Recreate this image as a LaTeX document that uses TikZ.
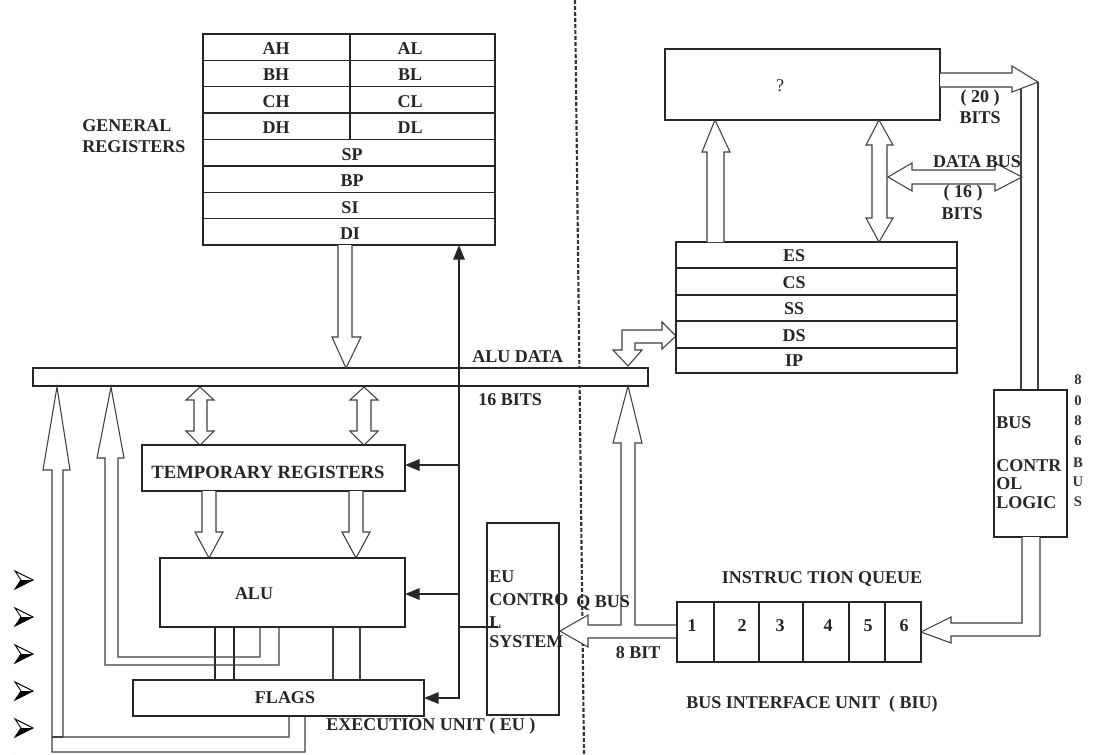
\documentclass[tikz,border=0pt]{standalone}
\usepackage{fontspec}
\setmainfont{Liberation Serif}
\usetikzlibrary{arrows.meta}
\begin{document}
\begin{tikzpicture}[x=0.75pt,y=-0.75pt,
  ln/.style={draw=black!85, line width=1pt},
  hol/.style={draw=black!75, line width=0.8pt, fill=white, line join=miter},
  chan/.style={draw=black!75, line width=0.8pt},
  blk/.style={draw=black!85, line width=1.7pt},
  tip/.style={-{Triangle[length=11pt,width=8.5pt]}},
  t/.style={font=\fontsize{13.5}{15}\selectfont\bfseries, inner sep=0pt, text=black!85},
  tl/.style={t, anchor=west},
  dv/.style={draw=black!80, line width=1.6pt, dash pattern=on 3pt off 1.5pt}]
\clip (0,0) rectangle (1098,754);
\fill[white] (0,0) rectangle (1098,754);

% divider between EU and BIU
\draw[dv] (575,0) -- (584,754);

% ---------------- general registers
\draw[ln] (203,34) rectangle (495,245);
\foreach \y in {60.4,86.75,113.1,139.5,165.9,192.25,218.6} \draw[ln] (203,\y) -- (495,\y);
\draw[ln] (350,34) -- (350,139.5);
\node[t] (ah) at (276,49) {AH};  \node[t] (al) at (410,49) {AL};
\node[t] (bh) at (276,75) {BH};  \node[t] (bl) at (410,75) {BL};
\node[t] (ch) at (276,102) {CH}; \node[t] (cl) at (410,102) {CL};
\node[t] (dh) at (276,128) {DH}; \node[t] (dl) at (410,128) {DL};
\node[t] (sp) at (352,155) {SP};
\node[t] (bp) at (352,181) {BP};
\node[t] (si) at (350,208) {SI};
\node[t] (di) at (350,234) {DI};
\node[tl] (gen1) at (82,126) {GENERAL};
\node[tl] (gen2) at (82,147) {REGISTERS};

% ---------------- ALU data bus bar
\draw[ln, fill=white] (33,368) rectangle (648,386);
\node[tl] (aludata) at (472,357) {ALU DATA};
\node[tl] (bits16) at (478,400) {16 BITS};

% gen regs -> bus
\draw[hol] (338,245) -- (338,337) -- (332,337) -- (346,368) -- (361,337) -- (352,337) -- (352,245);

% bus <-> temporary registers
\draw[hol] (200,387) -- (214,400) -- (207,400) -- (207,431) -- (214,431) -- (200,445) -- (186,431) -- (194,431) -- (194,400) -- (186,400) -- cycle;
\draw[hol] (364,387) -- (378,400) -- (371,400) -- (371,431) -- (378,431) -- (364,445) -- (350,431) -- (357,431) -- (357,400) -- (350,400) -- cycle;

% temporary registers
\draw[ln] (142,445) rectangle (405,491);
\node[font=\fontsize{14}{15}\selectfont\bfseries, inner sep=0pt, text=black!85] (temp) at (268,472) {TEMPORARY REGISTERS};

% temp -> ALU
\draw[hol] (202,491) -- (202,532) -- (195,532) -- (209,558) -- (223,532) -- (216,532) -- (216,491);
\draw[hol] (349,491) -- (349,532) -- (342,532) -- (356,558) -- (370,532) -- (363,532) -- (363,491);

% ALU
\draw[ln] (160,558) rectangle (405,627);
\node[t] (alu) at (254,594) {ALU};

% FLAGS
\draw[ln] (133,680) rectangle (424,716);
\node[t] (flags) at (285,698) {FLAGS};

% ALU -> FLAGS lines
\draw[draw=black!85, line width=1.4pt] (215,627) -- (215,680) (234,627) -- (234,680);
\draw[chan] (333,627) -- (333,680) (360,627) -- (360,680);

% left channel arrows to the bus
\draw[hol, fill=none] (260,627) -- (260,657) -- (118,657) -- (118,458) -- (124,458) -- (111,387) -- (97,458) -- (105,458) -- (105,665) -- (279,665) -- (279,627);
\draw[hol, fill=none] (289,716) -- (289,737) -- (63,737) -- (63,470) -- (70,470) -- (57,387) -- (43,470) -- (52,470) -- (52,752) -- (305,752) -- (305,716);
\draw[chan] (52,737) -- (63,737);

\node[tl] (eu) at (326,726) {EXECUTION UNIT ( EU )};

% black control lines
\draw[blk, tip] (459,698) -- (459,245);
\draw[blk, tip] (459,465) -- (405,465);
\draw[blk, tip] (459,594) -- (405,594);
\draw[blk, tip] (459.8,698) -- (424,698);
\draw[draw=black!85, line width=1pt] (459,627) -- (498,627);

% EU control system
\draw[ln] (487,523) rectangle (559,715);
\node[tl] (euc1) at (489,577) {EU};
\node[tl] (euc2) at (489,600) {CONTRO};
\node[tl] (euc3) at (489,623) {L};
\node[tl] (euc4) at (489,642) {SYSTEM};

% Q bus arrow (from queue to EU control, branch up to ALU data bus)
\draw[hol] (677,625) -- (635,625) -- (635,443) -- (642,443) -- (628,386) -- (613,443) -- (621,443) -- (621,625) -- (588,625) -- (588,615) -- (560,631) -- (588,647) -- (588,638) -- (677,638);
\node[t] (qbus) at (603,603) {Q BUS};
\node[t] (bit8) at (638,653) {8 BIT};

% bus -> segment registers (DS)
\draw[hol] (628,366) -- (613,350) -- (622,350) -- (622,330) -- (662,330) -- (662,322) -- (676,336) -- (662,349) -- (662,343) -- (635,343) -- (635,350) -- (642,350) -- cycle;

% ---------------- segment registers
\draw[ln] (676,242) rectangle (957,373);
\foreach \y in {268,295,321,348} \draw[ln] (676,\y) -- (957,\y);
\node[t] (es) at (794,256) {ES};
\node[t] (cs) at (794,283) {CS};
\node[t] (ss) at (794,309) {SS};
\node[t] (ds) at (794,336) {DS};
\node[t] (ip) at (794,361) {IP};

% ? box
\draw[ln] (665,49) rectangle (940,120);
\node[font=\fontsize{13.5}{15}\selectfont, inner sep=0pt, text=black!85] (q) at (780,86) {?};

% ES -> ? box
\draw[hol] (707,242) -- (707,152) -- (702,152) -- (715,120) -- (730,152) -- (724,152) -- (724,242);
% ? box <-> ES (double)
\draw[hol] (879,120) -- (893,145) -- (887,145) -- (887,218) -- (893,218) -- (879,242) -- (866,218) -- (872,218) -- (872,145) -- (866,145) -- cycle;
% data bus (double, horizontal)
\draw[hol] (888,177) -- (912,163) -- (912,170) -- (995,170) -- (995,163) -- (1022,177) -- (995,191) -- (995,184) -- (912,184) -- (912,191) -- cycle;
\node[t] (databus) at (977,162) {DATA BUS};
\node[t] (b16a) at (963,193) {( 16 )};
\node[t] (b16b) at (962,214) {BITS};

% address bus (20 bits) to bus control logic
\draw[hol] (940,73) -- (1012,73) -- (1012,66) -- (1038,82) -- (1012,92) -- (1012,87) -- (940,87);
\draw[chan] (1038,82) -- (1038,390);
\draw[chan] (1021,89) -- (1021,390);
\node[t] (b20a) at (980,98) {( 20 )};
\node[t] (b20b) at (980,118) {BITS};

% bus control logic
\draw[ln] (994,390) rectangle (1067,537);
\node[tl] (bc1) at (996,423) {BUS};
\node[tl] (bc2) at (996,466) {CONTR};
\node[tl] (bc3) at (996,484) {OL};
\node[tl] (bc4) at (996,503) {LOGIC};
\foreach \c/\y [count=\i] in {8/380,0/401,8/421,6/441,B/463,U/482,S/502}
  \node[font=\fontsize{11}{12}\selectfont\bfseries, inner sep=0pt, text=black!80] (v\i) at (1078,\y) {\c};

% bus control -> instruction queue
\draw[hol] (1022,537) -- (1022,623) -- (951,623) -- (951,617) -- (921,632) -- (951,643) -- (951,636) -- (1040,636) -- (1040,537);

% instruction queue
\draw[ln] (677,602) rectangle (921,662);
\foreach \x in {714,759,803,849,885} \draw[ln] (\x,602) -- (\x,662);
\node[t] (q1) at (692,626) {1};
\node[t] (q2) at (742,626) {2};
\node[t] (q3) at (780,626) {3};
\node[t] (q4) at (828,626) {4};
\node[t] (q5) at (868,626) {5};
\node[t] (q6) at (904,626) {6};
\node[t] (iq) at (822,579) {INSTRUC TION QUEUE};
\node[t] (biu) at (812,704) {BUS INTERFACE UNIT \ ( BIU)};

% bullet arrowheads at left margin
\foreach \y in {580,617,654,691,728,765} {
  \draw[black, line width=0.7pt, line join=miter] (15,\y-9) -- (33,\y) -- (15,\y+9) -- (21,\y) -- cycle;
  \fill[black] (33,\y) -- (15,\y+9) -- (21,\y) -- cycle;
}
\end{tikzpicture}
\end{document}
